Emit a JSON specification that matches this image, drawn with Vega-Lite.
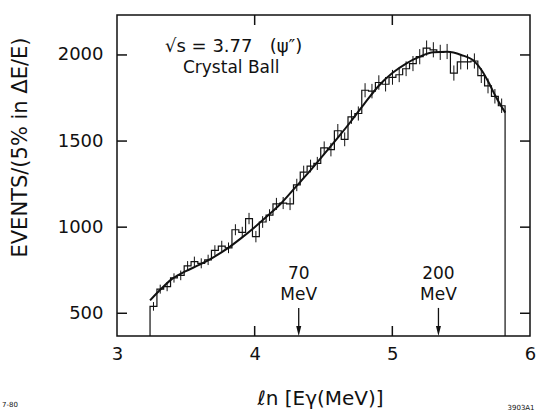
{
  "$schema": "https://vega.github.io/schema/vega-lite/v6.json",
  "width": 413,
  "height": 321,
  "autosize": {"type": "none"},
  "padding": {"left": 117, "top": 15, "right": 6, "bottom": 79},
  "background": "white",
  "config": {
    "font": "DejaVu Sans",
    "view": {"stroke": "#111", "strokeWidth": 1.5},
    "axis": {"grid": false, "domain": false, "ticks": false, "labelColor": "#111", "titleColor": "#111", "labelFont": "DejaVu Sans", "titleFont": "DejaVu Sans", "titleFontWeight": "normal"}
  },
  "datasets": {
    "bins": [
      {"lo": 3.240, "e": 3.265, "n": 540, "err": 25},
      {"lo": 3.290, "e": 3.314, "n": 640, "err": 26},
      {"lo": 3.339, "e": 3.364, "n": 655, "err": 27},
      {"lo": 3.389, "e": 3.414, "n": 705, "err": 27},
      {"lo": 3.438, "e": 3.463, "n": 720, "err": 28},
      {"lo": 3.488, "e": 3.513, "n": 775, "err": 28},
      {"lo": 3.538, "e": 3.562, "n": 800, "err": 29},
      {"lo": 3.587, "e": 3.612, "n": 790, "err": 29},
      {"lo": 3.637, "e": 3.662, "n": 810, "err": 30},
      {"lo": 3.686, "e": 3.711, "n": 865, "err": 30},
      {"lo": 3.736, "e": 3.761, "n": 890, "err": 31},
      {"lo": 3.786, "e": 3.810, "n": 880, "err": 31},
      {"lo": 3.835, "e": 3.860, "n": 985, "err": 32},
      {"lo": 3.885, "e": 3.910, "n": 970, "err": 32},
      {"lo": 3.934, "e": 3.959, "n": 1050, "err": 33},
      {"lo": 3.984, "e": 4.009, "n": 945, "err": 33},
      {"lo": 4.034, "e": 4.058, "n": 1030, "err": 34},
      {"lo": 4.083, "e": 4.108, "n": 1070, "err": 34},
      {"lo": 4.133, "e": 4.158, "n": 1135, "err": 35},
      {"lo": 4.182, "e": 4.207, "n": 1140, "err": 35},
      {"lo": 4.232, "e": 4.257, "n": 1135, "err": 36},
      {"lo": 4.282, "e": 4.306, "n": 1245, "err": 36},
      {"lo": 4.331, "e": 4.356, "n": 1320, "err": 37},
      {"lo": 4.381, "e": 4.406, "n": 1355, "err": 37},
      {"lo": 4.430, "e": 4.455, "n": 1370, "err": 38},
      {"lo": 4.480, "e": 4.505, "n": 1460, "err": 38},
      {"lo": 4.530, "e": 4.554, "n": 1450, "err": 39},
      {"lo": 4.579, "e": 4.604, "n": 1560, "err": 39},
      {"lo": 4.629, "e": 4.654, "n": 1510, "err": 40},
      {"lo": 4.678, "e": 4.703, "n": 1640, "err": 40},
      {"lo": 4.728, "e": 4.753, "n": 1660, "err": 41},
      {"lo": 4.778, "e": 4.802, "n": 1795, "err": 41},
      {"lo": 4.827, "e": 4.852, "n": 1790, "err": 42},
      {"lo": 4.877, "e": 4.902, "n": 1840, "err": 42},
      {"lo": 4.926, "e": 4.951, "n": 1830, "err": 42},
      {"lo": 4.976, "e": 5.001, "n": 1870, "err": 43},
      {"lo": 5.026, "e": 5.050, "n": 1885, "err": 43},
      {"lo": 5.075, "e": 5.100, "n": 1920, "err": 43},
      {"lo": 5.125, "e": 5.150, "n": 1950, "err": 44},
      {"lo": 5.174, "e": 5.199, "n": 1990, "err": 44},
      {"lo": 5.224, "e": 5.249, "n": 2040, "err": 44},
      {"lo": 5.274, "e": 5.298, "n": 2030, "err": 44},
      {"lo": 5.323, "e": 5.348, "n": 2015, "err": 44},
      {"lo": 5.373, "e": 5.398, "n": 2020, "err": 44},
      {"lo": 5.422, "e": 5.447, "n": 1895, "err": 44},
      {"lo": 5.472, "e": 5.497, "n": 1960, "err": 44},
      {"lo": 5.522, "e": 5.546, "n": 1960, "err": 44},
      {"lo": 5.571, "e": 5.596, "n": 1965, "err": 44},
      {"lo": 5.621, "e": 5.646, "n": 1880, "err": 43},
      {"lo": 5.670, "e": 5.695, "n": 1820, "err": 43},
      {"lo": 5.720, "e": 5.745, "n": 1760, "err": 42},
      {"lo": 5.770, "e": 5.794, "n": 1705, "err": 42},
      {"lo": 5.819, "n": 1705}
    ],
    "fit": [
      {"x": 3.24, "y": 575}, {"x": 3.30, "y": 625}, {"x": 3.40, "y": 700}, {"x": 3.50, "y": 745},
      {"x": 3.60, "y": 782}, {"x": 3.70, "y": 825}, {"x": 3.80, "y": 875}, {"x": 3.90, "y": 935},
      {"x": 4.00, "y": 1000}, {"x": 4.10, "y": 1070}, {"x": 4.20, "y": 1145}, {"x": 4.30, "y": 1235},
      {"x": 4.40, "y": 1325}, {"x": 4.50, "y": 1420}, {"x": 4.60, "y": 1515}, {"x": 4.70, "y": 1615},
      {"x": 4.80, "y": 1720}, {"x": 4.90, "y": 1820}, {"x": 5.00, "y": 1895}, {"x": 5.10, "y": 1950},
      {"x": 5.20, "y": 1990}, {"x": 5.30, "y": 2015}, {"x": 5.40, "y": 2018}, {"x": 5.50, "y": 2000},
      {"x": 5.60, "y": 1960}, {"x": 5.65, "y": 1910}, {"x": 5.70, "y": 1840}, {"x": 5.75, "y": 1760},
      {"x": 5.82, "y": 1665}
    ],
    "arrows": [
      {"e": 4.32, "num": "70", "unit": "MeV"},
      {"e": 5.335, "num": "200", "unit": "MeV"}
    ]
  },
  "layer": [
    {
      "data": {"name": "bins"},
      "mark": {"type": "area", "interpolate": "step-after", "color": "#111", "fillOpacity": 0, "stroke": "#111", "strokeWidth": 1.2, "clip": true},
      "encoding": {
        "x": {"field": "lo", "type": "quantitative", "title": "ℓn [Eγ(MeV)]", "scale": {"domain": [3, 6], "nice": false, "zero": false},
          "axis": {"orient": "bottom", "values": [3, 4, 5, 6], "format": "d", "labelPadding": 9, "labelFontSize": 18, "labelFlush": false, "labelOverlap": false,
            "titleFontSize": 20, "titleX": 203, "titleY": 62, "titleAlign": "center", "titleBaseline": "middle"}},
        "y": {"field": "n", "type": "quantitative", "title": "EVENTS/(5% in ΔE/E)", "scale": {"domain": [368, 2232], "nice": false, "zero": false},
          "axis": {"orient": "left", "values": [500, 1000, 1500, 2000], "format": "d", "labelPadding": 14, "labelFontSize": 18, "labelFlush": false, "labelOverlap": false,
            "titleFontSize": 21, "titleAngle": -90, "titleX": -97, "titleY": 132, "titleAlign": "center", "titleBaseline": "middle"}}
      }
    },
    {
      "data": {"name": "bins"},
      "transform": [{"filter": "datum.e != null"}],
      "mark": {"type": "errorbar", "color": "#111", "thickness": 1},
      "encoding": {
        "x": {"field": "e", "type": "quantitative", "title": "ℓn [Eγ(MeV)]", "scale": {"domain": [3, 6], "nice": false, "zero": false}},
        "y": {"field": "n", "type": "quantitative", "title": "EVENTS/(5% in ΔE/E)", "scale": {"domain": [368, 2232], "nice": false, "zero": false}},
        "yError": {"field": "err"}
      }
    },
    {
      "data": {"name": "fit"},
      "mark": {"type": "line", "interpolate": "monotone", "color": "#111", "strokeWidth": 2},
      "encoding": {
        "x": {"field": "x", "type": "quantitative", "title": "ℓn [Eγ(MeV)]", "scale": {"domain": [3, 6], "nice": false, "zero": false}},
        "y": {"field": "y", "type": "quantitative", "title": "EVENTS/(5% in ΔE/E)", "scale": {"domain": [368, 2232], "nice": false, "zero": false}}
      }
    },
    {
      "data": {"values": [{"tx": 4, "ya": 368, "yb": 426}, {"tx": 5, "ya": 368, "yb": 426}, {"tx": 4, "ya": 2174, "yb": 2232}, {"tx": 5, "ya": 2174, "yb": 2232}]},
      "mark": {"type": "rule", "color": "#111", "strokeWidth": 1.5},
      "encoding": {
        "x": {"field": "tx", "type": "quantitative", "title": "ℓn [Eγ(MeV)]", "scale": {"domain": [3, 6], "nice": false, "zero": false}},
        "y": {"field": "ya", "type": "quantitative", "title": "EVENTS/(5% in ΔE/E)", "scale": {"domain": [368, 2232], "nice": false, "zero": false}},
        "y2": {"field": "yb"}
      }
    },
    {
      "data": {"values": [{"ty": 500, "xa": 3, "xb": 3.0726}, {"ty": 1000, "xa": 3, "xb": 3.0726}, {"ty": 1500, "xa": 3, "xb": 3.0726}, {"ty": 2000, "xa": 3, "xb": 3.0726}, {"ty": 500, "xa": 5.9274, "xb": 6}, {"ty": 1000, "xa": 5.9274, "xb": 6}, {"ty": 1500, "xa": 5.9274, "xb": 6}, {"ty": 2000, "xa": 5.9274, "xb": 6}]},
      "mark": {"type": "rule", "color": "#111", "strokeWidth": 1.5},
      "encoding": {
        "y": {"field": "ty", "type": "quantitative", "title": "EVENTS/(5% in ΔE/E)", "scale": {"domain": [368, 2232], "nice": false, "zero": false}},
        "x": {"field": "xa", "type": "quantitative", "title": "ℓn [Eγ(MeV)]", "scale": {"domain": [3, 6], "nice": false, "zero": false}},
        "x2": {"field": "xb"}
      }
    },
    {
      "data": {"name": "arrows"},
      "mark": {"type": "rule", "color": "#111", "strokeWidth": 1.3},
      "encoding": {
        "x": {"field": "e", "type": "quantitative", "title": "ℓn [Eγ(MeV)]", "scale": {"domain": [3, 6], "nice": false, "zero": false}},
        "y": {"datum": 531, "type": "quantitative", "title": "EVENTS/(5% in ΔE/E)", "scale": {"domain": [368, 2232], "nice": false, "zero": false}},
        "y2": {"datum": 400}
      }
    },
    {
      "data": {"name": "arrows"},
      "mark": {"type": "point", "shape": "M-0.5,-1L0.5,-1L0,1Z", "filled": true, "color": "#111", "size": 100, "opacity": 1},
      "encoding": {
        "x": {"field": "e", "type": "quantitative", "title": "ℓn [Eγ(MeV)]", "scale": {"domain": [3, 6], "nice": false, "zero": false}},
        "y": {"datum": 397, "type": "quantitative", "title": "EVENTS/(5% in ΔE/E)", "scale": {"domain": [368, 2232], "nice": false, "zero": false}}
      }
    },
    {
      "data": {"name": "arrows"},
      "mark": {"type": "text", "color": "#111", "fontSize": 17, "align": "center", "baseline": "middle"},
      "encoding": {
        "x": {"field": "e", "type": "quantitative", "title": "ℓn [Eγ(MeV)]", "scale": {"domain": [3, 6], "nice": false, "zero": false}},
        "y": {"datum": 728, "type": "quantitative", "title": "EVENTS/(5% in ΔE/E)", "scale": {"domain": [368, 2232], "nice": false, "zero": false}},
        "text": {"field": "num"}
      }
    },
    {
      "data": {"name": "arrows"},
      "mark": {"type": "text", "color": "#111", "fontSize": 17, "align": "center", "baseline": "middle"},
      "encoding": {
        "x": {"field": "e", "type": "quantitative", "title": "ℓn [Eγ(MeV)]", "scale": {"domain": [3, 6], "nice": false, "zero": false}},
        "y": {"datum": 606, "type": "quantitative", "title": "EVENTS/(5% in ΔE/E)", "scale": {"domain": [368, 2232], "nice": false, "zero": false}},
        "text": {"field": "unit"}
      }
    },
    {
      "data": {"values": [{"t": "√s\u00a0=\u00a03.77\u00a0\u00a0\u00a0(ψ″)", "x": 3.349, "y": 2046}]},
      "mark": {"type": "text", "color": "#111", "fontSize": 18, "align": "left", "baseline": "middle"},
      "encoding": {
        "x": {"field": "x", "type": "quantitative", "title": "ℓn [Eγ(MeV)]", "scale": {"domain": [3, 6], "nice": false, "zero": false}},
        "y": {"field": "y", "type": "quantitative", "title": "EVENTS/(5% in ΔE/E)", "scale": {"domain": [368, 2232], "nice": false, "zero": false}},
        "text": {"field": "t"}
      }
    },
    {
      "data": {"values": [{"t": "Crystal Ball", "x": 3.479, "y": 1924}]},
      "mark": {"type": "text", "color": "#111", "fontSize": 17, "align": "left", "baseline": "middle"},
      "encoding": {
        "x": {"field": "x", "type": "quantitative", "title": "ℓn [Eγ(MeV)]", "scale": {"domain": [3, 6], "nice": false, "zero": false}},
        "y": {"field": "y", "type": "quantitative", "title": "EVENTS/(5% in ΔE/E)", "scale": {"domain": [368, 2232], "nice": false, "zero": false}},
        "text": {"field": "t"}
      }
    },
    {
      "data": {"values": [{"t": "7-80", "x": 2.223, "y": -33}, {"t": "3903A1", "x": 5.935, "y": -50}]},
      "mark": {"type": "text", "color": "#111", "fontSize": 7, "align": "center", "baseline": "middle"},
      "encoding": {
        "x": {"field": "x", "type": "quantitative", "title": "ℓn [Eγ(MeV)]", "scale": {"domain": [3, 6], "nice": false, "zero": false}},
        "y": {"field": "y", "type": "quantitative", "title": "EVENTS/(5% in ΔE/E)", "scale": {"domain": [368, 2232], "nice": false, "zero": false}},
        "text": {"field": "t"}
      }
    }
  ]
}
